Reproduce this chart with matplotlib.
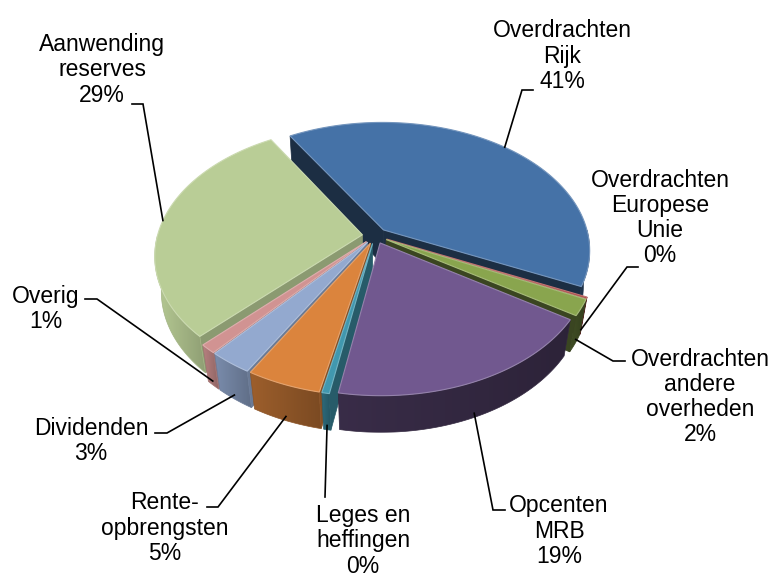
import numpy as np
import matplotlib
matplotlib.use('Agg')
import matplotlib.pyplot as plt
from matplotlib.patches import Polygon
from matplotlib.colors import to_rgb

# ---------------- data ----------------
categories = ['Overdrachten\nRijk', 'Overdrachten\nEuropese\nUnie', 'Overdrachten\nandere\noverheden',
              'Opcenten\nMRB', 'Leges en\nheffingen', 'Rente-\nopbrengsten', 'Dividenden', 'Overig',
              'Aanwending\nreserves']
values = [40.6, 0.2, 2.0, 18.6, 0.5, 5.0, 2.9, 1.1, 29.1]

# ---------------- style ----------------
colors = ['#4572A7', '#AA4643', '#89A54E', '#71588F', '#4198AF', '#DB843D', '#93A9CF', '#D19392', '#B9CD96']
wall_f = [0.45, 0.50, 0.42, 0.45, 0.62, 0.64, 0.74, 0.78, 0.88]
side_f = [0.40, 0.50, 0.42, 0.45, 0.60, 0.60, 0.72, 0.75, 0.75]

# label block centres and leader (label end, knee)
label_xy = [(562, 56), (660, 218), (700, 397), (559, 531), (363, 541), (165, 528), (91, 441), (46, 309), (102, 70)]
leader_pts = [((533, 90), (522, 90)), ((638, 267), (627, 267)), ((625, 361), (613, 361)),
              ((505, 510), (493, 510)), ((325, 497), (325, 497)), ((207, 507), (218, 507)),
              ((155, 433), (167, 433)), ((85, 299), (97, 299)), ((132, 104), (143, 104))]

START = 121.0
TILT = np.radians(40)
DIST = 5.0
SCALE = 199.0
CX, CY = 375.0, 271.0
H = 0.225
EXPL = 0.062


def proj(x, y, z):
    x = np.asarray(x, float); y = np.asarray(y, float); z = np.asarray(z, float)
    v = y * np.sin(TILT) + z * np.cos(TILT)
    w = y * np.cos(TILT) - z * np.sin(TILT)
    f = DIST / (DIST + w)
    return CX + SCALE * x * f, CY - SCALE * v * f, w


def shade(c, f):
    return np.clip(np.array(to_rgb(c)) * f, 0, 1)


def lighten(c, f):
    r = np.array(to_rgb(c))
    return tuple(r + (1 - r) * f)


fig = plt.figure(figsize=(7.76, 5.77), dpi=100)
ax = fig.add_axes([0, 0, 1, 1])
ax.set_xlim(0, 776)
ax.set_ylim(577, 0)
ax.axis('off')

total = sum(values)
walls = []   # (depth, pts, kind, slice index)
tops = []
anchors = []
hi = START
for i, v in enumerate(values):
    span = 360.0 * v / total
    lo = hi - span
    mid = np.radians((lo + hi) / 2)
    ox, oy = EXPL * np.cos(mid), EXPL * np.sin(mid)
    n = max(int(np.ceil(span * 2)), 2)
    th = np.radians(np.linspace(lo, hi, n + 1))
    rx = ox + np.cos(th)
    ry = oy + np.sin(th)
    # top face
    px, py, pw = proj(np.r_[ox, rx], np.r_[oy, ry], np.full(n + 2, H))
    tops.append((np.c_[px, py], colors[i]))
    # outer wall (front-facing part)
    vis = np.sin(th) <= 1e-9
    if vis.sum() >= 2:
        idx = np.where(vis)[0]
        txs, tys, tws = proj(rx[idx], ry[idx], np.full(len(idx), H))
        bxs, bys, bws = proj(rx[idx], ry[idx], np.zeros(len(idx)))
        pts = np.r_[np.c_[txs, tys], np.c_[bxs, bys][::-1]]
        walls.append((np.r_[tws, bws].mean(), pts, 'grad', i))
    # radial faces
    for ang, visible in ((np.radians(lo), np.cos(np.radians(lo)) > 0),
                         (np.radians(hi), np.cos(np.radians(hi)) < 0)):
        if visible:
            xs = [ox, ox + np.cos(ang), ox + np.cos(ang), ox]
            ys = [oy, oy + np.sin(ang), oy + np.sin(ang), oy]
            zs = [H, H, 0, 0]
            qx, qy, qw = proj(xs, ys, zs)
            walls.append((qw.mean(), np.c_[qx, qy], 'flat', i))
    # anchor for leader line
    if np.sin(mid) > 0:
        ax_, ay_, _ = proj(ox + np.cos(mid), oy + np.sin(mid), H)
    else:
        ax_, ay_, _ = proj(ox + np.cos(mid), oy + np.sin(mid), H * 0.12)
    anchors.append((float(ax_), float(ay_)))
    hi = lo

walls.sort(key=lambda a: -a[0])
z = 2.0
for depth, pts, kind, i in walls:
    z += 0.01
    if kind == 'flat':
        col = tuple(shade(colors[i], side_f[i]))
        ax.add_patch(Polygon(pts, closed=True, facecolor=col, edgecolor=col, linewidth=0.5, zorder=z))
    else:
        x0, x1 = pts[:, 0].min(), pts[:, 0].max()
        y0, y1 = pts[:, 1].min(), pts[:, 1].max()
        t = np.linspace(0, 1, 64)
        img = np.array([[shade(colors[i], wall_f[i] * (1.12 - 0.24 * tt)) for tt in t]])
        clip = Polygon(pts, closed=True, transform=ax.transData)
        im = ax.imshow(img, extent=[x0, x1, y1, y0], aspect='auto', interpolation='bilinear', zorder=z)
        im.set_clip_path(clip)
        midcol = tuple(shade(colors[i], wall_f[i]))
        ax.add_patch(Polygon(pts, closed=True, facecolor='none', edgecolor=midcol, linewidth=0.5, zorder=z + 0.001))
for pts, col in tops:
    ax.add_patch(Polygon(pts, closed=True, facecolor=col, edgecolor=lighten(col, 0.25), linewidth=0.8, zorder=4))

ax.set_xlim(0, 776)
ax.set_ylim(577, 0)

for i, v in enumerate(values):
    txt = f"{categories[i]}\n{round(v):.0f}%"
    x, y = label_xy[i]
    ax.text(x, y, txt, ha='center', va='center', multialignment='center',
            fontsize=16.5, family=['Liberation Sans', 'DejaVu Sans'], linespacing=1.12, zorder=6)
    (ex, ey), (kx, ky) = leader_pts[i]
    axp, ayp = anchors[i]
    ax.plot([ex, kx, axp], [ey, ky, ayp], color='black', lw=1.2, zorder=5, solid_joinstyle='miter')

fig.savefig('out.png', dpi=100)
